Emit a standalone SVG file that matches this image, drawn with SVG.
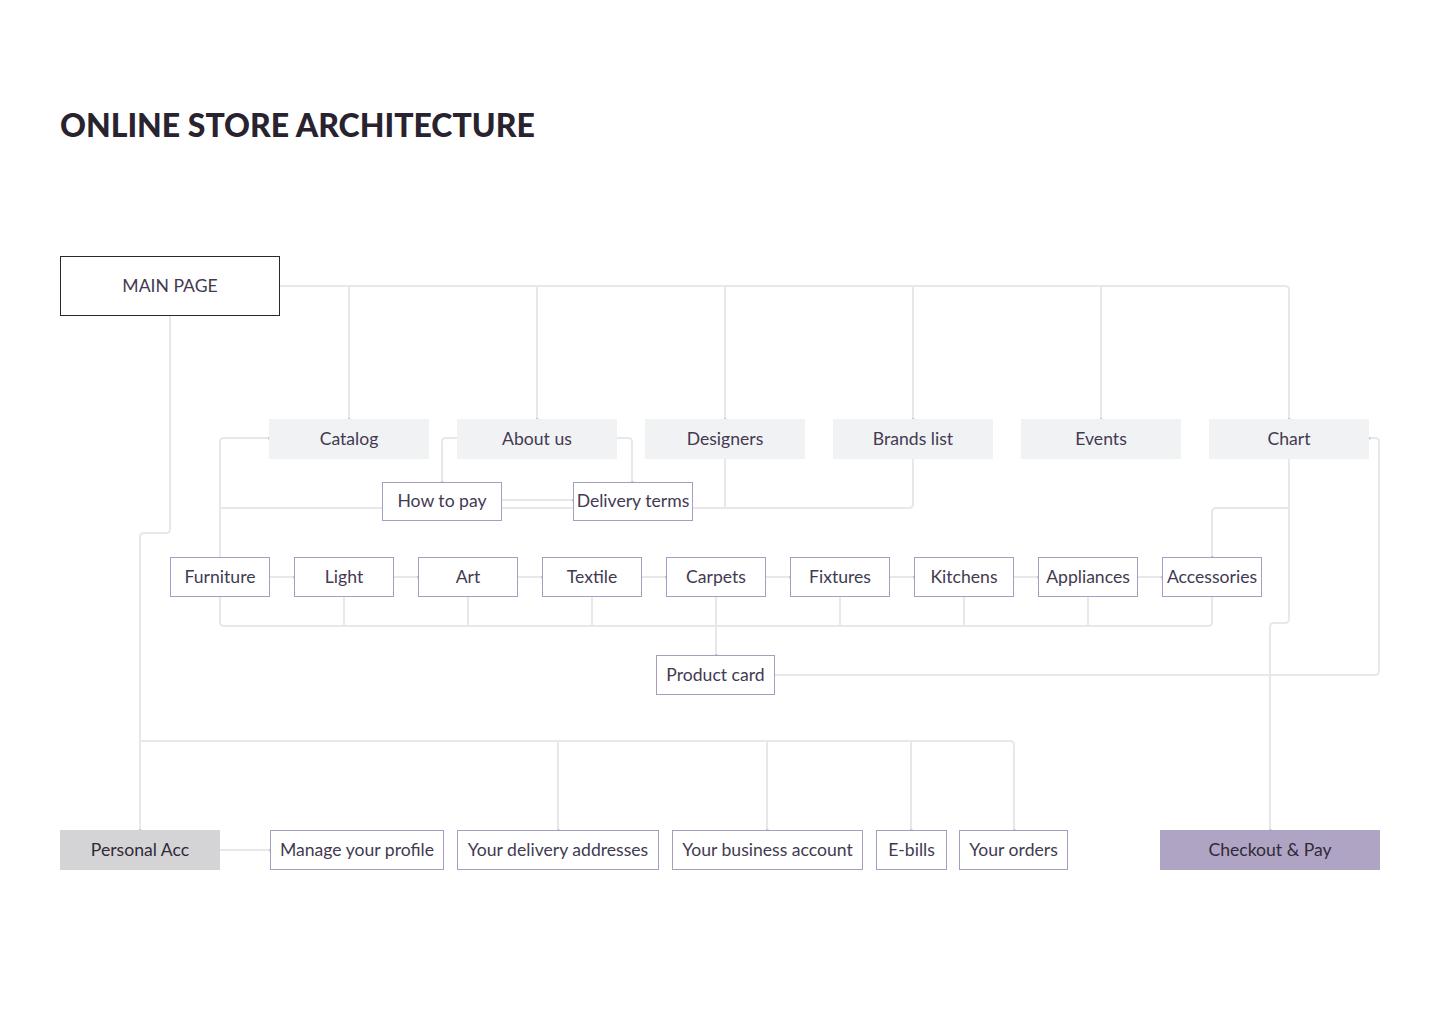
<svg xmlns="http://www.w3.org/2000/svg" width="1440" height="1024" viewBox="0 0 1440 1024">
<defs>
<marker id="m" viewBox="0 0 4 4" refX="2" refY="2" markerWidth="3" markerHeight="3" markerUnits="userSpaceOnUse" orient="auto"><rect x="0" y="0" width="4" height="4" fill="#c9c9cf"/></marker>
</defs>
<style>
.t{font-family:Lato,"Open Sans","Noto Sans",sans-serif;font-size:17.6px;fill:#433a52;text-anchor:middle;dominant-baseline:central}
.title{font-family:Lato,"Noto Sans",sans-serif;font-size:32px;font-weight:900;fill:#28232f;letter-spacing:0px}
.g{fill:#f1f2f4}
.w{fill:#ffffff;stroke:#a99bc1;stroke-width:1}
.c{fill:none;stroke:#e8e8eb;stroke-width:2;stroke-linejoin:round;marker-end:url(#m)}
.c0{fill:none;stroke:#e8e8eb;stroke-width:2;stroke-linejoin:round}
</style>
<rect width="1440" height="1024" fill="#ffffff"/>
<text class="title" x="60" y="137">ONLINE STORE ARCHITECTURE</text>

<g id="connectors">
<path class="c0" d="M280 286 H1285 Q1289 286 1289 290 V419"/>
<path class="c" d="M349 286 V419"/>
<path class="c" d="M537 286 V419"/>
<path class="c" d="M725 286 V419"/>
<path class="c" d="M913 286 V419"/>
<path class="c" d="M1101 286 V419"/>
<path class="c" d="M1289 300 V419"/>
<path class="c" d="M170 316 V529 Q170 533 166 533 H144 Q140 533 140 537 V830"/>
<path class="c" d="M220 557 V442 Q220 438 224 438 H269"/>
<path class="c0" d="M220 508 H909 Q913 508 913 504 V459"/>
<path class="c0" d="M725 508 V459"/>
<path class="c" d="M457 438 H446 Q442 438 442 442 V482"/>
<path class="c" d="M617 438 H628 Q632 438 632 442 V482"/>
<path class="c" d="M502 500 H573"/>
<path class="c" d="M270 577 H294"/>
<path class="c" d="M394 577 H418"/>
<path class="c" d="M518 577 H542"/>
<path class="c" d="M642 577 H666"/>
<path class="c" d="M766 577 H790"/>
<path class="c" d="M890 577 H914"/>
<path class="c" d="M1014 577 H1038"/>
<path class="c" d="M1138 577 H1162"/>
<path class="c0" d="M220 597 V622 Q220 626 224 626 H1208 Q1212 626 1212 622 V597"/>
<path class="c0" d="M344 597 V626"/>
<path class="c0" d="M468 597 V626"/>
<path class="c0" d="M592 597 V626"/>
<path class="c" d="M716 597 V655"/>
<path class="c0" d="M840 597 V626"/>
<path class="c0" d="M964 597 V626"/>
<path class="c0" d="M1088 597 V626"/>
<path class="c" d="M775 675 H1375 Q1379 675 1379 671 V442 Q1379 438 1375 438 H1369"/>
<path class="c" d="M1289 459 V619 Q1289 623 1285 623 H1274 Q1270 623 1270 627 V830"/>
<path class="c" d="M1289 508 H1216 Q1212 508 1212 512 V557"/>
<path class="c0" d="M140 741 H1010 Q1014 741 1014 745 V830"/>
<path class="c" d="M558 741 V830"/>
<path class="c" d="M767 741 V830"/>
<path class="c" d="M911 741 V830"/>
<path class="c" d="M1014 800 V830"/>
<path class="c" d="M220 850 H270"/>
</g>

<g id="main-page"><rect x="60.5" y="256.5" width="219" height="59" fill="#ffffff" stroke="#2b2733" stroke-width="1"/><text class="t" x="170" y="285">MAIN PAGE</text></g>

<g id="catalog"><rect class="g" x="269" y="419" width="160" height="40"/><text class="t" x="349" y="438">Catalog</text></g>
<g id="about-us"><rect class="g" x="457" y="419" width="160" height="40"/><text class="t" x="537" y="438">About us</text></g>
<g id="designers"><rect class="g" x="645" y="419" width="160" height="40"/><text class="t" x="725" y="438">Designers</text></g>
<g id="brands-list"><rect class="g" x="833" y="419" width="160" height="40"/><text class="t" x="913" y="438">Brands list</text></g>
<g id="events"><rect class="g" x="1021" y="419" width="160" height="40"/><text class="t" x="1101" y="438">Events</text></g>
<g id="chart"><rect class="g" x="1209" y="419" width="160" height="40"/><text class="t" x="1289" y="438">Chart</text></g>

<g id="how-to-pay"><rect class="w" x="382.5" y="482.5" width="119" height="38"/><text class="t" x="442" y="500">How to pay</text></g>
<g id="delivery-terms"><rect class="w" x="573.5" y="482.5" width="119" height="38"/><text class="t" x="633" y="500">Delivery terms</text></g>

<g id="furniture"><rect class="w" x="170.5" y="557.5" width="99" height="39"/><text class="t" x="220" y="576">Furniture</text></g>
<g id="light"><rect class="w" x="294.5" y="557.5" width="99" height="39"/><text class="t" x="344" y="576">Light</text></g>
<g id="art"><rect class="w" x="418.5" y="557.5" width="99" height="39"/><text class="t" x="468" y="576">Art</text></g>
<g id="textile"><rect class="w" x="542.5" y="557.5" width="99" height="39"/><text class="t" x="592" y="576">Textile</text></g>
<g id="carpets"><rect class="w" x="666.5" y="557.5" width="99" height="39"/><text class="t" x="716" y="576">Carpets</text></g>
<g id="fixtures"><rect class="w" x="790.5" y="557.5" width="99" height="39"/><text class="t" x="840" y="576">Fixtures</text></g>
<g id="kitchens"><rect class="w" x="914.5" y="557.5" width="99" height="39"/><text class="t" x="964" y="576">Kitchens</text></g>
<g id="appliances"><rect class="w" x="1038.5" y="557.5" width="99" height="39"/><text class="t" x="1088" y="576">Appliances</text></g>
<g id="accessories"><rect class="w" x="1162.5" y="557.5" width="99" height="39"/><text class="t" x="1212" y="576">Accessories</text></g>

<g id="product-card"><rect class="w" x="656.5" y="655.5" width="118" height="39"/><text class="t" x="715.5" y="674">Product card</text></g>

<g id="personal-acc"><rect x="60" y="830" width="160" height="40" fill="#d4d4d6"/><text class="t" x="140" y="849" style="fill:#2f2a36">Personal Acc</text></g>
<g id="manage-profile"><rect class="w" x="270.5" y="830.5" width="173" height="39"/><text class="t" x="357" y="849">Manage your profile</text></g>
<g id="delivery-addresses"><rect class="w" x="457.5" y="830.5" width="201" height="39"/><text class="t" x="558" y="849">Your delivery addresses</text></g>
<g id="business-account"><rect class="w" x="672.5" y="830.5" width="190" height="39"/><text class="t" x="767.5" y="849">Your business account</text></g>
<g id="e-bills"><rect class="w" x="876.5" y="830.5" width="70" height="39"/><text class="t" x="911.5" y="849">E-bills</text></g>
<g id="your-orders"><rect class="w" x="959.5" y="830.5" width="108" height="39"/><text class="t" x="1013.5" y="849">Your orders</text></g>
<g id="checkout-pay"><rect x="1160" y="830" width="220" height="40" fill="#b0a4c4"/><text class="t" x="1270" y="849" style="fill:#2f2a36">Checkout &amp; Pay</text></g>
</svg>
